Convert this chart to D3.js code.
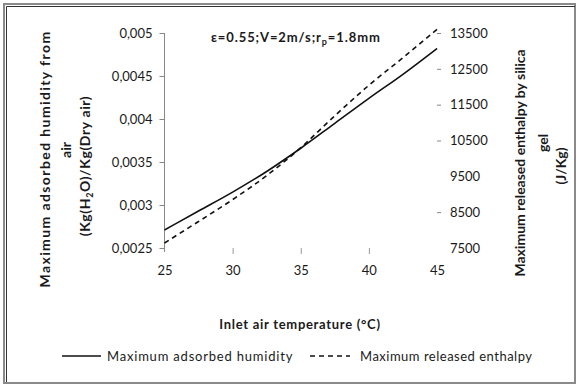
<!DOCTYPE html>
<html><head><meta charset="utf-8">
<script src="https://cdn.jsdelivr.net/npm/d3@7"></script>
<style>
html,body{margin:0;padding:0;background:#fff;}
svg text{font-family:Lato,"Noto Sans",sans-serif;fill:#1a1a1a;}
</style></head>
<body><svg id="c" width="578" height="385"></svg>
<script>
const temps = [25, 27.5, 30, 32.5, 35, 37.5, 40, 42.5, 45];
const humidity = [0.00271, 0.00293, 0.00315, 0.00339, 0.00366, 0.00395, 0.00424, 0.00452, 0.00482];
const enthalpy = [7640, 8240, 8850, 9520, 10300, 11190, 12040, 12810, 13600];
const xTicks = [25, 30, 35, 40, 45];
const yLeftTicks = [0.0025, 0.003, 0.0035, 0.004, 0.0045, 0.005];
const yRightTicks = [7500, 8500, 9500, 10500, 11500, 12500, 13500];
const seriesNames = ["Maximum adsorbed humidity", "Maximum released enthalpy"];

const svg = d3.select("#c");
// frame
svg.append("rect").attr("x",4).attr("y",4).attr("width",571).attr("height",379)
  .attr("fill","none").attr("stroke","#8a8a8a").attr("stroke-width",2);
svg.append("path").attr("d","M6.5,382 V6.5 H575").attr("fill","none").attr("stroke","#333").attr("stroke-width",1);

const x = d3.scaleLinear().domain([25,45]).range([164.5,437]);
const yL = d3.scaleLinear().domain([0.0025,0.005]).range([248,33]);
const yR = d3.scaleLinear().domain([7500,13500]).range([248,33]);

// left axis
const gL = svg.append("g").attr("transform","translate(164.5,0)")
  .call(d3.axisLeft(yL).tickValues(yLeftTicks).tickSize(5).tickPadding(7)
    .tickFormat(d=>String(+d.toFixed(4)).replace(".",",")));
gL.select(".domain").attr("stroke","#888").attr("d","M0,33V252");
gL.selectAll(".tick line").attr("stroke","#888");
gL.selectAll(".tick text").style("font-size","13px").attr("fill","#222");

// right axis
const gR = svg.append("g").attr("transform","translate(437,0)")
  .call(d3.axisRight(yR).tickValues(yRightTicks).tickSize(4).tickPadding(9).tickFormat(d3.format("d")));
gR.select(".domain").remove();
gR.selectAll(".tick line").attr("stroke","#888").attr("opacity",d=> (d===9500||d===7500)?0:1);
gR.selectAll(".tick text").style("font-size","13px").attr("fill","#222");

// bottom axis
const gB = svg.append("g").attr("transform","translate(0,248)")
  .call(d3.axisBottom(x).tickValues(xTicks).tickSize(6).tickPadding(12).tickFormat(d3.format("d")));
gB.select(".domain").remove();
gB.selectAll(".tick line").attr("stroke","#999").attr("opacity",d=>(d===25||d===45)?0:1);
gB.selectAll(".tick text").style("font-size","13px").attr("fill","#222");

// lines
const pts = temps.map((t,i)=>({t, h:humidity[i], e:enthalpy[i]}));
svg.append("path").datum(pts).attr("fill","none").attr("stroke","#111").attr("stroke-width",1.6)
  .attr("d", d3.line().x(d=>x(d.t)).y(d=>yL(d.h)).curve(d3.curveMonotoneX));
svg.append("path").datum(pts).attr("fill","none").attr("stroke","#111").attr("stroke-width",1.6)
  .attr("stroke-dasharray","5,4")
  .attr("d", d3.line().x(d=>x(d.t)).y(d=>yR(d.e)).curve(d3.curveMonotoneX));

// annotation
const ann = svg.append("text").attr("x",211).attr("y",42).style("font-size","13px").style("font-weight","bold").style("letter-spacing","0.9px");
ann.append("tspan").text("ε=0.55;V=2m/s;r");
ann.append("tspan").attr("dy",3).style("font-size","9px").text("p");
ann.append("tspan").attr("dy",-3).text("=1.8mm");

// x title
svg.append("text").attr("x",300).attr("y",329).attr("text-anchor","middle")
  .style("font-size","13px").style("font-weight","bold").style("letter-spacing","0.7px").text("Inlet air temperature (°C)");

// left title
const lt = svg.append("g").attr("transform","rotate(-90)").style("font-size","14px").style("font-weight","bold").attr("text-anchor","middle");
lt.append("text").attr("x",-159).attr("y",50).style("letter-spacing","1.4px").text("Maximum adsorbed humidity from");
lt.append("text").attr("x",-150).attr("y",71).text("air");
const l3 = lt.append("text").attr("x",-166).attr("y",90).style("letter-spacing","0.6px");
l3.append("tspan").text("(Kg(H");
l3.append("tspan").attr("dy",3).style("font-size","9px").text("2");
l3.append("tspan").attr("dy",-3).text("O)/Kg(Dry air)");

// right title
const rt = svg.append("g").attr("transform","rotate(-90)").style("font-size","14px").style("font-weight","bold").attr("text-anchor","middle");
rt.append("text").attr("x",-163).attr("y",525).text("Maximum released enthalpy by silica");
rt.append("text").attr("x",-143).attr("y",548).text("gel");
rt.append("text").attr("x",-166).attr("y",566).text("(J/Kg)");

// legend
const lg = svg.append("g").attr("transform","translate(0,356)");
lg.append("line").attr("x1",62).attr("x2",101).attr("y1",0).attr("y2",0).attr("stroke","#111").attr("stroke-width",1.4);
lg.append("text").attr("x",107).attr("y",5).style("font-size","13px").style("letter-spacing","0.8px").text(seriesNames[0]);
lg.append("line").attr("x1",310).attr("x2",350).attr("y1",0).attr("y2",0).attr("stroke","#111").attr("stroke-width",1.4).attr("stroke-dasharray","5,4");
lg.append("text").attr("x",360).attr("y",5).style("font-size","13px").style("letter-spacing","0.5px").text(seriesNames[1]);
</script></body></html>
